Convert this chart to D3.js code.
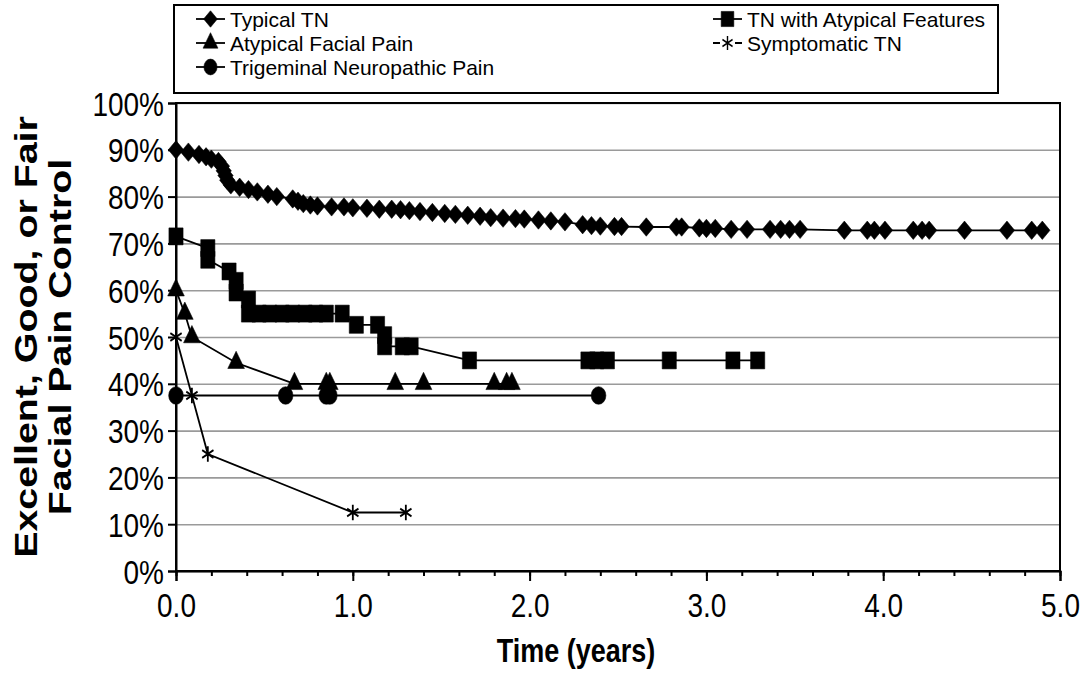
<!DOCTYPE html>
<html>
<head>
<meta charset="utf-8">
<script src="https://cdn.jsdelivr.net/npm/d3@7"></script>
<style>
  body { margin: 0; background: #fff; }
  text { font-family: "Liberation Sans", Arial, sans-serif; fill: #000; }
</style>
</head>
<body>
<div id="chart-area"></div>
<script>
// series values: [time in years, % with excellent/good/fair control]
var typicalTN = [[0,90],[0.07,89.5],[0.13,89],[0.17,88.5],[0.2,88],[0.24,87.5],[0.26,86.5],[0.27,85.5],[0.28,84.5],[0.29,83.5],
  [0.31,82.5],[0.36,82],[0.41,81.5],[0.46,81],[0.52,80.5],[0.57,80],[0.66,79.5],[0.69,79],[0.72,78.5],[0.76,78.2],
  [0.8,78],[0.88,77.8],[0.95,77.8],[1.0,77.6],[1.08,77.5],[1.15,77.3],[1.22,77.3],[1.27,77.2],[1.32,77],[1.38,76.8],
  [1.45,76.6],[1.52,76.4],[1.58,76.2],[1.65,76],[1.72,75.8],[1.78,75.5],[1.85,75.4],[1.92,75.3],[1.97,75.2],[2.05,75],
  [2.12,74.8],[2.2,74.6],[2.3,74],[2.35,73.8],[2.4,73.7],[2.48,73.6],[2.52,73.6],[2.66,73.5],[2.83,73.5],[2.86,73.5],
  [2.96,73.3],[3.0,73.2],[3.05,73.2],[3.14,73],[3.23,73],[3.36,73],[3.42,73],[3.47,73],[3.53,73],[3.78,72.8],
  [3.91,72.8],[3.95,72.8],[4.01,72.8],[4.17,72.8],[4.22,72.8],[4.26,72.8],[4.46,72.8],[4.7,72.8],[4.84,72.8],[4.9,72.8]];
var tnAtypical = [[0,71.5],[0.18,69],[0.18,66.5],[0.3,64],[0.34,62],[0.34,59.5],[0.41,58],[0.41,55],[0.47,55],[0.53,55],
  [0.6,55],[0.66,55],[0.73,55],[0.79,55],[0.85,55],[0.94,55],[1.02,52.6],[1.14,52.6],[1.18,50.4],[1.18,48],
  [1.28,48],[1.33,48],[1.66,45],[2.33,45],[2.38,45],[2.44,45],[2.79,45],[3.15,45],[3.29,45]];
var atypicalFacial = [[0,60],[0.05,55],[0.09,50],[0.34,44.5],[0.67,40],[0.85,40],[0.87,40],[1.24,40],[1.4,40],
  [1.8,40],[1.87,40],[1.9,40]];
var symptomaticTN = [[0,50],[0.09,37.5],[0.18,25],[1.0,12.5],[1.3,12.5]];
var neuropathic = [[0,37.5],[0.62,37.5],[0.85,37.5],[0.87,37.5],[2.39,37.5]];

var seriesNames = ["Typical TN", "TN with Atypical Features", "Atypical Facial Pain", "Symptomatic TN", "Trigeminal Neuropathic Pain"];
var yTicks = [0,10,20,30,40,50,60,70,80,90,100];
var xTicks = [0,1,2,3,4,5];
var xMinor = d3.range(0, 5.01, 0.2);

var mwidth = 1085, mheight = 674;
var margin = {top: 103, right: 25, bottom: 103, left: 176};
var width = mwidth - margin.left - margin.right;
var height = mheight - margin.top - margin.bottom;
var stretch = 1.2; // text in the picture is taller than wide

var svg = d3.select("#chart-area").append("svg")
  .attr("width", mwidth)
  .attr("height", mheight);

var g = svg.append("g")
  .attr("transform", "translate(" + margin.left + ", " + margin.top + ")");

var x = d3.scaleLinear().domain([0, 5]).range([0, width]);
var y = d3.scaleLinear().domain([0, 100]).range([height, 0]);

// gridlines
g.append("g").attr("class", "grid")
  .call(d3.axisLeft(y).tickValues(yTicks).tickSize(-width).tickFormat(""))
  .call(s => s.select(".domain").remove())
  .selectAll("line").attr("stroke", "#9a9a9a").attr("stroke-width", 1.6);

// plot border
g.append("rect").attr("x", 0).attr("y", 0).attr("width", width).attr("height", height)
  .attr("fill", "none").attr("stroke", "#000").attr("stroke-width", 2);

// y axis
var yAxis = g.append("g").attr("class", "y-axis")
  .call(d3.axisLeft(y).tickValues(yTicks).tickSize(8).tickPadding(4)
    .tickFormat(d => d + "%"));
yAxis.select(".domain").attr("stroke-width", 2);
yAxis.selectAll("line").attr("stroke-width", 2);
yAxis.selectAll("text").attr("font-size", "28px").attr("dy", "0.36em")
  .attr("transform", "scale(1," + stretch + ")");

// x axis
var xAxis = g.append("g").attr("class", "x-axis")
  .attr("transform", "translate(0, " + height + ")")
  .call(d3.axisBottom(x).tickValues(xTicks).tickSize(10).tickFormat(d3.format(".1f")));
xAxis.select(".domain").attr("stroke-width", 2);
xAxis.selectAll("line").attr("stroke-width", 2);
xAxis.selectAll("text").attr("font-size", "28px").attr("dy", 0)
  .attr("y", 46 / stretch).attr("transform", "scale(1," + stretch + ")");

g.append("g").attr("class", "x-minor")
  .attr("transform", "translate(0, " + height + ")")
  .call(d3.axisBottom(x).tickValues(xMinor).tickSize(5).tickFormat(""))
  .call(s => s.select(".domain").remove())
  .selectAll("line").attr("stroke-width", 2);

// axis titles
g.append("text")
  .attr("transform", "translate(" + (400) + "," + (height + 91) + ") scale(1," + stretch + ")")
  .attr("text-anchor", "middle")
  .attr("font-size", "27px").attr("font-weight", "bold")
  .text("Time (years)");

var yTitle = g.append("g")
  .attr("transform", "translate(" + (-139) + "," + (height / 2) + ") scale(1,1.23) rotate(-90)");
yTitle.append("text").attr("x", 0).attr("y", 0).attr("text-anchor", "middle")
  .attr("font-size", "32px").attr("font-weight", "bold").text("Excellent, Good, or Fair");
yTitle.append("text").attr("x", 0).attr("y", 34).attr("text-anchor", "middle")
  .attr("font-size", "32px").attr("font-weight", "bold").text("Facial Pain Control");

// symbols
var asterisk = d3.symbolAsterisk || {
  draw: function(ctx, size) {
    var r = Math.sqrt(size) * 0.6;
    ctx.moveTo(0, -r); ctx.lineTo(0, r);
    ctx.moveTo(-r * 0.87, -r / 2); ctx.lineTo(r * 0.87, r / 2);
    ctx.moveTo(-r * 0.87, r / 2); ctx.lineTo(r * 0.87, -r / 2);
  }
};
var styles = [
  {data: typicalTN, type: d3.symbolDiamond2, size: 150, fill: true},
  {data: tnAtypical, type: d3.symbolSquare, size: 200, fill: true},
  {data: atypicalFacial, type: d3.symbolTriangle, size: 120, fill: true},
  {data: symptomaticTN, type: asterisk, size: 120, fill: false},
  {data: neuropathic, type: d3.symbolCircle, size: 170, fill: true}
];

var line = d3.line().x(d => x(d[0])).y(d => y(d[1]));

styles.forEach(function(s) {
  g.append("path").datum(s.data)
    .attr("d", line)
    .attr("fill", "none").attr("stroke", "#000").attr("stroke-width", 1.8);
  g.selectAll(null).data(s.data).enter().append("path")
    .attr("transform", d => "translate(" + x(d[0]) + "," + y(d[1]) + ") scale(1,1.2)")
    .attr("d", d3.symbol().type(s.type).size(s.size))
    .attr("fill", s.fill ? "#000" : "none")
    .attr("stroke", "#000").attr("stroke-width", s.fill ? 0.5 : 1.8);
});

// legend
var legend = svg.append("g").attr("class", "legend");
legend.append("rect").attr("x", 174).attr("y", 5).attr("width", 824).attr("height", 88)
  .attr("fill", "#fff").attr("stroke", "#000").attr("stroke-width", 2);
var legendPos = [[196, 19], [713, 19], [196, 43], [713, 43], [196, 67]];
seriesNames.forEach(function(name, i) {
  var p = legendPos[i], s = styles[i];
  var it = legend.append("g").attr("transform", "translate(" + p[0] + "," + p[1] + ")");
  it.append("line").attr("x1", 0).attr("x2", 29).attr("y1", 0).attr("y2", 0)
    .attr("stroke", "#000").attr("stroke-width", 1.8)
    .attr("stroke-dasharray", s.fill ? null : "7,15");
  it.append("path").attr("transform", "translate(14.5,0) scale(1,1.2)")
    .attr("d", d3.symbol().type(s.type).size(s.size * 0.8))
    .attr("fill", s.fill ? "#000" : "none")
    .attr("stroke", "#000").attr("stroke-width", s.fill ? 0.5 : 1.4);
  it.append("text").attr("x", 34).attr("y", 8)
    .attr("font-size", "21px").text(name);
});
</script>
</body>
</html>
